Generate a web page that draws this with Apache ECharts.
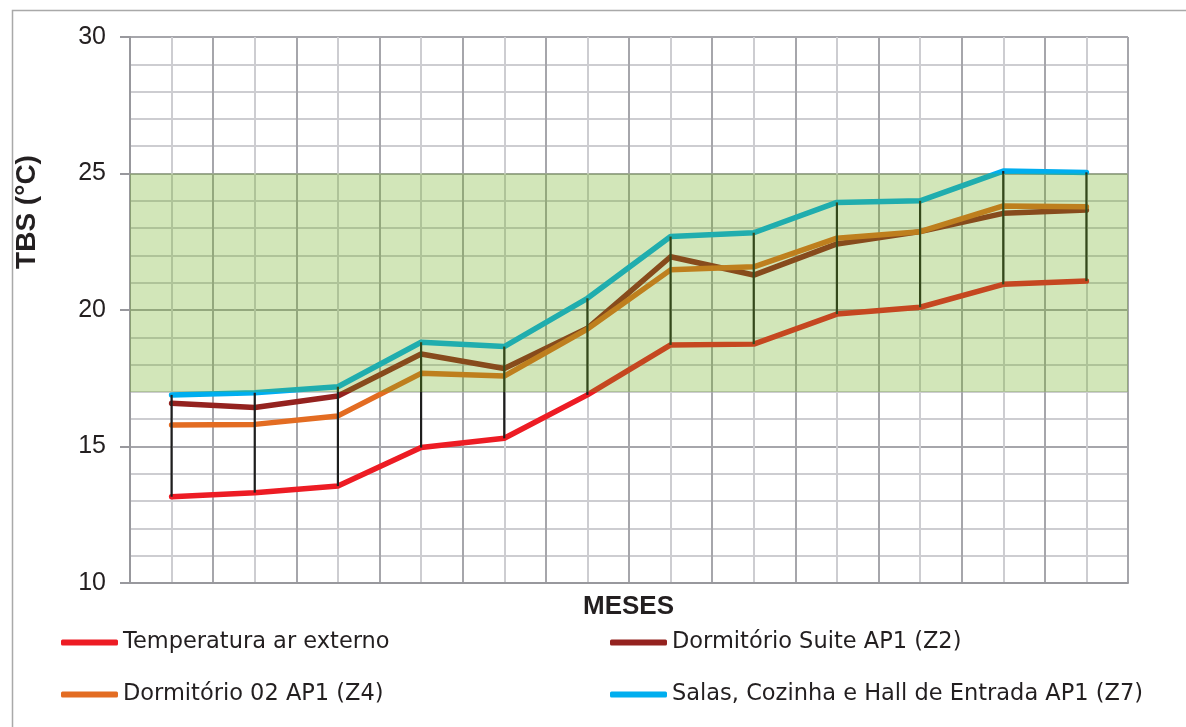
<!DOCTYPE html>
<html>
<head>
<meta charset="utf-8">
<script src="https://cdn.jsdelivr.net/npm/echarts@6/dist/echarts.min.js"></script>
<style>
html,body{margin:0;padding:0;background:#fff;}
#chart{width:1186px;height:727px;}
</style>
</head>
<body>
<div id="chart"></div>
<script>
// ---- data ----
const months = ['Jan','Fev','Mar','Abr','Mai','Jun','Jul','Ago','Set','Out','Nov','Dez'];
const seriesNames = ['Temperatura ar externo','Dormitório Suite AP1 (Z2)','Dormitório 02 AP1 (Z4)','Salas, Cozinha e Hall de Entrada AP1 (Z7)'];
const tempExterno = [13.16, 13.31, 13.55, 14.96, 15.30, 16.89, 18.72, 18.75, 19.85, 20.10, 20.94, 21.06];
const dormSuite   = [16.58, 16.43, 16.85, 18.39, 17.86, 19.33, 21.95, 21.28, 22.42, 22.87, 23.54, 23.66];
const dorm02      = [15.79, 15.81, 16.12, 17.68, 17.58, 19.30, 21.47, 21.58, 22.63, 22.87, 23.81, 23.78];
const salas       = [16.89, 16.97, 17.19, 18.82, 18.66, 20.43, 22.69, 22.83, 23.94, 24.00, 25.09, 25.04];
const comfortBand = [17, 25];
const yTicks = [10, 15, 20, 25, 30];

// ---- derived ----
const allSeries = [tempExterno, dormSuite, dorm02, salas];
const colors = ['#ED1C24', '#94221F', '#E36C22', '#00AEEF'];
const hiLo = months.map((m, i) => {
  const vals = allSeries.map(s => s[i]);
  return [i, Math.min.apply(null, vals), Math.max.apply(null, vals)];
});

const chart = echarts.init(document.getElementById('chart'), null, {renderer: 'canvas'});
const gridDark = '#a6a6ab';
const gridLight = '#cdcdd1';
const legendText = {fontSize: 22.5, color: '#231f20', fontFamily: 'DejaVu Sans'};

const lineSeries = allSeries.map((s, k) => ({
  name: seriesNames[k],
  type: 'line',
  xAxisIndex: 0,
  data: s,
  showSymbol: false,
  symbol: 'none',
  z: 3,
  lineStyle: {color: colors[k], width: 5.5, cap: 'round', join: 'round'},
  itemStyle: {color: colors[k]},
  emphasis: {disabled: true}
}));

const option = {
  animation: false,
  backgroundColor: '#ffffff',
  grid: {left: 130, right: 58, top: 37, bottom: 144, containLabel: false},
  xAxis: [
    {type: 'category', data: months, boundaryGap: true, show: false},
    {type: 'value', min: 0, max: 12, interval: 1, position: 'bottom',
      axisLabel: {show: false}, axisTick: {show: false},
      axisLine: {show: true, lineStyle: {color: '#98989d', width: 2}},
      splitLine: {show: true, lineStyle: {color: gridDark, width: 2}},
      minorTick: {show: false, splitNumber: 2},
      minorSplitLine: {show: true, lineStyle: {color: gridLight, width: 2}}
    }
  ],
  yAxis: {
    type: 'value', min: yTicks[0], max: yTicks[yTicks.length - 1], interval: 5,
    axisLine: {show: true, lineStyle: {color: '#98989d', width: 2}},
    axisTick: {show: true, length: 10, lineStyle: {color: '#98989d', width: 2}},
    axisLabel: {fontSize: 25, color: '#231f20', fontFamily: 'Liberation Sans', margin: 24},
    splitLine: {show: true, lineStyle: {color: gridDark, width: 2}},
    minorTick: {show: false, splitNumber: 5},
    minorSplitLine: {show: true, lineStyle: {color: gridLight, width: 2}}
  },
  legend: [
    {data: [seriesNames[0], seriesNames[2]], orient: 'vertical', left: 56, top: 626,
      itemGap: 29, itemWidth: 57, itemHeight: 6, icon: 'roundRect', textStyle: legendText,
      selectedMode: false},
    {data: [seriesNames[1], seriesNames[3]], orient: 'vertical', left: 605, top: 626,
      itemGap: 29, itemWidth: 57, itemHeight: 6, icon: 'roundRect', textStyle: legendText,
      selectedMode: false}
  ],
  graphic: [
    {type: 'rect', left: 10, top: 8, shape: {width: 1200, height: 740},
      style: {fill: 'none', stroke: '#a9a9a9', lineWidth: 1.5}, silent: true, z: -1},
    {type: 'text', left: 583, top: 594,
      style: {text: 'MESES', font: 'bold 26px "Liberation Sans"', fill: '#231f20'}},
    {type: 'text', x: 27, y: 212, rotation: Math.PI / 2,
      style: {text: 'TBS (°C)', font: 'bold 28px "Liberation Sans"', fill: '#231f20',
        align: 'center', verticalAlign: 'middle'}}
  ],
  series: lineSeries.concat([
    {
      type: 'custom', xAxisIndex: 0, z: 4, silent: true,
      data: hiLo,
      encode: {x: 0, y: [1, 2]},
      renderItem: function (params, api) {
        const x = api.value(0);
        const p1 = api.coord([x, api.value(1)]);
        const p2 = api.coord([x, api.value(2)]);
        return {type: 'line', shape: {x1: p1[0], y1: p1[1], x2: p2[0], y2: p2[1]},
          style: {stroke: '#1e1e1e', lineWidth: 2.2}};
      }
    },
    {
      type: 'line', xAxisIndex: 0, data: [], z: 10, silent: true,
      markArea: {
        silent: true, z: 10,
        itemStyle: {color: 'rgba(105,172,22,0.3)'},
        data: [[{yAxis: comfortBand[0]}, {yAxis: comfortBand[1]}]]
      }
    }
  ])
};
chart.setOption(option);
</script>
</body>
</html>
